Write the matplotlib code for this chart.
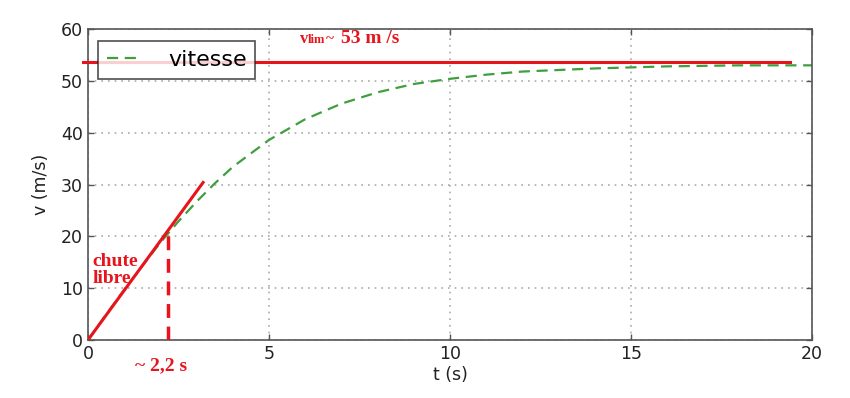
import numpy as np
import matplotlib.pyplot as plt

# vitesse (m/s)
t = [0, 0.5, 1, 1.5, 2, 2.5, 3, 3.5, 4, 5, 6, 7, 8, 9, 10, 11, 12, 13, 14, 15, 16, 17, 18, 19, 20]
v = [0, 4.9, 9.7, 14.3, 18.8, 22.9, 26.7, 30.2, 33.4, 38.6, 42.6, 45.6, 47.8, 49.4, 50.4,
     51.2, 51.8, 52.1, 52.4, 52.6, 52.8, 52.9, 53.0, 53.0, 53.0]

v_lim = 53.6
t_lim_fin = 19.4
t_chute = 2.2
v_chute = 21.3
pente_t = [0, 3.18]
pente_v = [0, 30.4]

fig = plt.figure(figsize=(8.5, 3.98), dpi=100)
ax = fig.add_axes([0.1035, 0.1457, 0.8518, 0.7813])

ax.plot(t, v, color='#3f9f3f', lw=1.6, dashes=(5, 3), label='vitesse')

ax.set_xlim(0, 20)
ax.set_ylim(0, 60)
ax.set_xticks([0, 5, 10, 15, 20])
ax.set_yticks(range(0, 61, 10))
ax.grid(True, color='#aaaaaa', linestyle=(0, (1, 3)), lw=1.2)
ax.tick_params(direction='in', top=True, right=True, labelsize=12.5,
               colors='#555555', labelcolor='#222222', length=4, width=1)
for s in ax.spines.values():
    s.set_color('#555555')
    s.set_linewidth(1.2)
ax.set_xlabel('t (s)', fontsize=12.5, color='#222222', labelpad=2)
ax.set_ylabel('v (m/s)', fontsize=12.5, color='#222222', labelpad=8)

leg = ax.legend(loc='upper left', fontsize=16, fancybox=False, handlelength=1.45,
                handletextpad=1.3, borderpad=0.4, borderaxespad=0,
                bbox_to_anchor=(0.0138, 0.961))
leg.get_frame().set_edgecolor('#222222')
leg.get_frame().set_linewidth(1.2)

# annotations rouges
rouge = '#e8141c'
ax.plot([-0.15, t_lim_fin], [v_lim, v_lim], color=rouge, lw=2.2, clip_on=False, zorder=5)
ax.plot(pente_t, pente_v, color=rouge, lw=2.2, zorder=5)
ax.plot([t_chute, t_chute], [0, v_chute], color=rouge, lw=2.5, dashes=(4, 2.5), zorder=5)

police = dict(family='Liberation Serif', fontweight='bold', color=rouge)
ax.text(5.86, 57.3, 'v', fontsize=12, **police)
ax.text(6.08, 57.3, 'lim', fontsize=9, **police)
ax.text(6.56, 57.3, '~', fontsize=11, **police)
ax.text(7.0, 57.3, '53 m /s', fontsize=14, **police)
ax.text(0.12, 14.3, 'chute', fontsize=14, **police)
ax.text(0.12, 11.0, 'libre', fontsize=14, **police)
ax.text(2.03, -5.8, '~ 2,2 s', fontsize=14, ha='center', clip_on=False, **police)

fig.savefig('out.png', dpi=100)
